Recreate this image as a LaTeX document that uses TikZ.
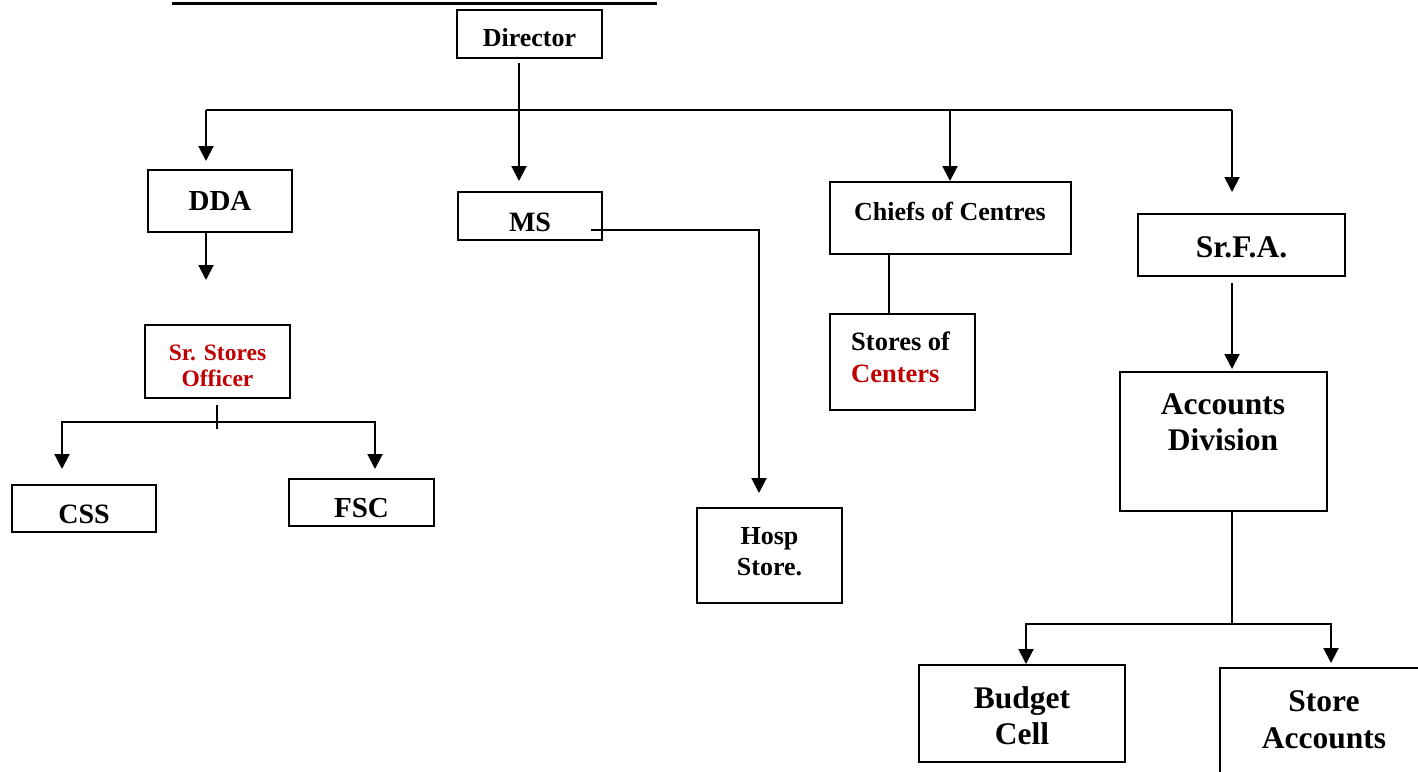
\documentclass[tikz,border=0pt]{standalone}
\usepackage{fontspec}
\setmainfont{Liberation Serif}
\usetikzlibrary{arrows.meta,calc}
\definecolor{darkred}{HTML}{C00000}
\newcommand\fsz[2]{\fontsize{#1}{#2}\selectfont}
\begin{document}
\begin{tikzpicture}[x=1pt,y=-1pt,
  box/.style={draw, line width=2pt, inner sep=0pt},
  txt/.style={inner sep=0pt, align=center},
  ln/.style={line width=2pt},
  arr/.style={line width=2pt, -{Triangle[width=15pt,length=15pt]}},
]
\useasboundingbox (0,0) rectangle (1418,771);
\fill[white] (0,0) rectangle (1418,771);

% title underline
\coordinate (ulA) at (172,3);
\coordinate (ulB) at (657,3);
\draw[line width=3pt] (ulA) -- (ulB);

% boxes
\node[box, minimum width=145, minimum height=48] (dir) at (529.5,34) {};
\node[txt, font={\bfseries\fsz{26}{30}}] (dirT) at (529.5,38) {Director};
\node[box, minimum width=144, minimum height=62] (dda) at (220,201) {};
\node[txt, font={\bfseries\fsz{29}{33}}] (ddaT) at (220,201) {DDA};
\node[box, minimum width=144, minimum height=48] (ms) at (530,216) {};
\node[txt, font={\bfseries\fsz{28}{32}}] (msT) at (530,222) {MS};
\node[box, minimum width=241, minimum height=72] (chiefs) at (950.5,218) {};
\node[txt, font={\bfseries\fsz{26}{30}}] (chiefsT) at (950,211) {Chiefs of Centres};
\node[box, minimum width=145, minimum height=96] (stores) at (902.5,362) {};
\node[txt, align=left, anchor=west, font={\bfseries\fsz{26.5}{32}}] (storesT) at (851,357) {Stores of\\\textcolor{darkred}{Centers}};
\node[box, minimum width=207, minimum height=62] (srfa) at (1241.5,245) {};
\node[txt, font={\bfseries\fsz{31.5}{36}}] (srfaT) at (1241.5,247) {Sr.F.A.};
\node[box, minimum width=207, minimum height=139] (acc) at (1223.5,441.5) {};
\node[txt, font={\bfseries\fsz{31.5}{36}}] (accT) at (1223,422) {Accounts\\Division};
\node[box, minimum width=206, minimum height=97] (budget) at (1022,713.5) {};
\node[txt, font={\bfseries\fsz{31.5}{36}}] (budgetT) at (1022,715.5) {Budget\\Cell};
\node[box, minimum width=208, minimum height=112] (sacc) at (1324,724) {};
\node[txt, font={\bfseries\fsz{31.5}{37}}] (saccT) at (1324,720) {Store\\Accounts};
\node[box, minimum width=145, minimum height=73] (sso) at (217.5,361.5) {};
\node[txt, text=darkred, font={\bfseries\fsz{23.5}{26}}] (ssoT) at (217.5,365.5) {Sr. Stores\\Officer};
\node[box, minimum width=144, minimum height=47] (css) at (84,508.5) {};
\node[txt, font={\bfseries\fsz{28}{32}}] (cssT) at (84,514.5) {CSS};
\node[box, minimum width=145, minimum height=47] (fsc) at (361.5,502.5) {};
\node[txt, font={\bfseries\fsz{29}{33}}] (fscT) at (361.5,508.5) {FSC};
\node[box, minimum width=145, minimum height=95] (hosp) at (769.5,555.5) {};
\node[txt, font={\bfseries\fsz{26}{31}}] (hospT) at (769.5,551.5) {Hosp\\Store.};

% connectors
\draw[arr] ($(dir.south)+(-10.5,4)$) -- ($(ms.north)+(-11,-10)$);
\coordinate (busL) at (206,110);
\coordinate (busR) at (1232,110);
\draw[ln] (busL) -- (busR);
\draw[arr] (busL) -- ($(dda.north)+(-14,-8)$);
\draw[arr] ($(busL -| chiefs.north)+(-0.5,0)$) -- ($(chiefs.north)+(-0.5,0)$);
\draw[arr] (busR) -- ($(srfa.north)+(-9.5,-21)$);
\draw[arr] ($(dda.south)+(-14,0)$) -- ($(sso.north)+(-11.5,-44)$);
\draw[arr] ($(ms.east)+(-12,14)$) -| ($(hosp.north)+(-10.5,-14)$);
\draw[ln] ($(stores.north)+(-13.5,0)$) coordinate (sc) -- (sc |- chiefs.south);
\draw[arr] ($(srfa.south)+(-9.5,6)$) -- ($(acc.north)+(8.5,-2)$);
\coordinate (accJ) at (1232,624);
\draw[ln] ($(acc.south)+(8.5,0)$) -- (accJ);
\draw[arr] (accJ) -| ($(budget.north)+(4,0)$);
\draw[arr] (accJ) -| ($(sacc.north)+(7,-4)$);
\coordinate (ssoJ) at (217,422);
\draw[ln] ($(sso.south)+(-0.5,6)$) -- ++(0,24);
\draw[arr] (ssoJ) -| ($(css.north)+(-22,-15)$);
\draw[arr] (ssoJ) -| ($(fsc.north)+(13.5,-9)$);
\end{tikzpicture}
\end{document}
